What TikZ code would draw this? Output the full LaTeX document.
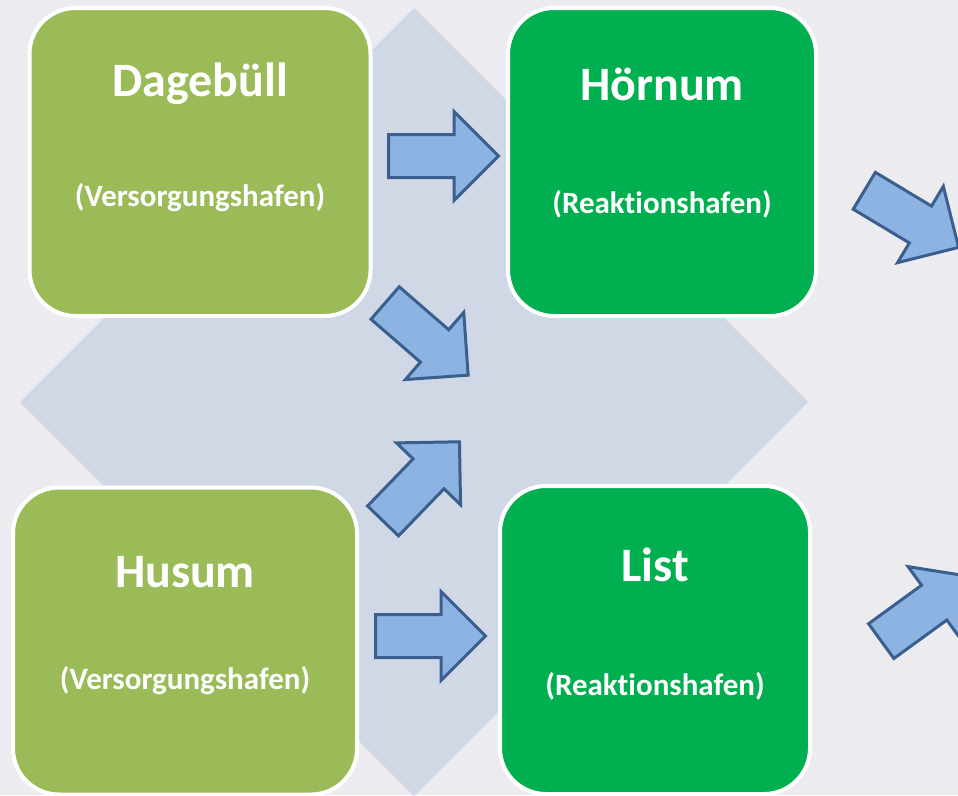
\documentclass[tikz,border=0pt]{standalone}
\usepackage{fontspec}
\setmainfont[Ligatures=NoCommon]{Carlito}
\usetikzlibrary{shapes.arrows}

\definecolor{sfondo}{HTML}{ECECF0}
\definecolor{raute}{HTML}{D0D8E6}
\definecolor{hellgruen}{HTML}{9BBB59}
\definecolor{gruen}{HTML}{00B050}
\definecolor{pfeilblau}{HTML}{8DB3E2}
\definecolor{pfeilrand}{HTML}{3A5F8F}

\begin{document}
\begin{tikzpicture}[x=1pt, y=-1pt,
        versorgung/.style={draw=white, line width=4pt, rounded corners=46pt, fill=hellgruen, inner sep=0pt},
        reaktion/.style={versorgung, fill=gruen},
        titel/.style={anchor=base, text=white, font=\fontsize{48}{52}\selectfont\bfseries},
        untertitel/.style={anchor=base, text=white, font=\fontsize{31}{34}\selectfont\bfseries},
        pfeil/.style={single arrow, draw=pfeilrand, fill=pfeilblau, line width=3pt, inner xsep=0pt, inner ysep=20pt,
            minimum height=110pt, single arrow head extend=23pt, anchor=tail}]

        % Hintergrund und Raute
        \fill[sfondo] (0,0) rectangle (958,795);
        \clip (0,0) rectangle (958,795);
        \fill[raute] (414,8) -- (808,402) -- (414,796) -- (20,402) -- cycle;

        % Versorgungshaefen (links)
        \node[versorgung, minimum width=341pt, minimum height=308pt] (dag) at (200,162) {};
        \node[versorgung, minimum width=344pt, minimum height=307pt] (hus) at (185,641) {};

        % Reaktionshaefen (rechts)
        \node[reaktion, minimum width=308pt, minimum height=308pt] (hoe) at (662,162) {};
        \node[reaktion, minimum width=310pt, minimum height=308pt] (lis) at (655,640) {};

        % Beschriftungen
        \node[titel] (dagT) at ([yshift=-90pt]dag.north) {Dagebüll};
        \node[untertitel] (dagU) at ([yshift=-200pt]dag.north) {(Versorgungshafen)};
        \node[titel] (hoeT) at ([yshift=-94pt]hoe.north) {Hörnum};
        \node[untertitel] (hoeU) at ([yshift=-207pt]hoe.north) {(Reaktionshafen)};
        \node[titel] (husT) at ([yshift=-102pt]hus.north) {Husum};
        \node[untertitel] (husU) at ([yshift=-204pt]hus.north) {(Versorgungshafen)};
        \node[titel] (lisT) at ([yshift=-97pt]lis.north) {List};
        \node[untertitel] (lisU) at ([yshift=-211pt]lis.north) {(Reaktionshafen)};

        % Pfeile
        \node[pfeil] (p1) at (387,156) {};
        \node[pfeil] (p2) at (374,636) {};
        \node[pfeil, rotate=-41] (p3) at (384,302) {};
        \node[pfeil, rotate=46] (p4) at (382,522) {};
        \node[pfeil, rotate=-31] (p5) at (863,190) {};
        \node[pfeil, rotate=36] (p6) at (880,642) {};
    \end{tikzpicture}
\end{document}
